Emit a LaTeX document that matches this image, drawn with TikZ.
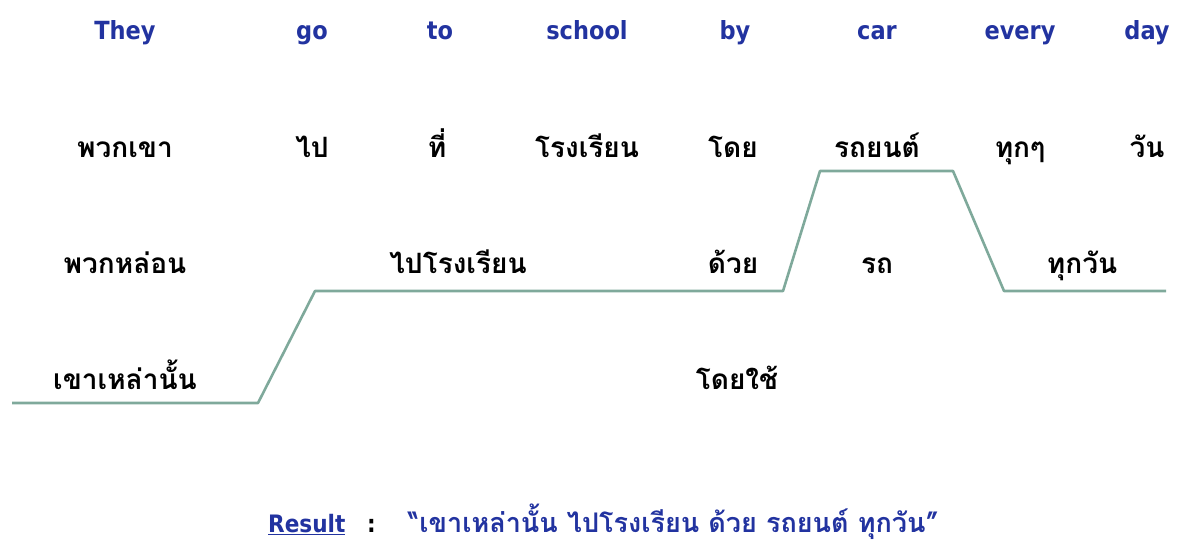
\documentclass[tikz,border=0pt]{standalone}
\usepackage{fontspec}
\newfontfamily\enfont{DejaVu Sans Condensed}
\newfontfamily\thaifont[Script=Thai]{Loma}
\definecolor{enblue}{HTML}{2233A0}
\definecolor{pathgreen}{HTML}{7FA99B}
\begin{document}
\begin{tikzpicture}[x=1pt,y=-1pt,
  en/.style={font=\enfont\bfseries\fontsize{25}{30}\selectfont, text=enblue, inner sep=0pt, anchor=base},
  th/.style={font=\thaifont\bfseries\fontsize{28}{32}\selectfont, text=black, inner sep=0pt, anchor=base},
  route/.style={draw=pathgreen, line width=2.6pt, line join=round}]
\useasboundingbox (0,0) rectangle (1182,543);
% English row
\node[en] (e1) at (125,40) {They};
\node[en] (e2) at (312,40) {go};
\node[en] (e3) at (440,40) {to};
\node[en] (e4) at (587,40) {school};
\node[en] (e5) at (735,40) {by};
\node[en] (e6) at (877,40) {car};
\node[en] (e7) at (1020,40) {every};
\node[en] (e8) at (1147,40) {day};
% Thai word-by-word
\node[th] (t1) at (125,157) {พวกเขา};
\node[th] (t2) at (312,157) {ไป};
\node[th] (t3) at (437,157) {ที่};
\node[th] (t4) at (587,157) {โรงเรียน};
\node[th] (t5) at (733,157) {โดย};
\node[th] (t6) at (877,157) {รถยนต์};
\node[th] (t7) at (1020,157) {ทุกๆ};
\node[th] (t8) at (1147,157) {วัน};
% Row 3
\node[th] (r1) at (125,273) {พวกหล่อน};
\node[th] (r2) at (458,273) {ไปโรงเรียน};
\node[th] (r3) at (733,273) {ด้วย};
\node[th] (r4) at (877,273) {รถ};
\node[th] (r5) at (1082,273) {ทุกวัน};
% Row 4
\node[th] (s1) at (125,389) {เขาเหล่านั้น};
\node[th] (s2) at (737,389) {โดยใช้};
% route
\coordinate (p0) at (12,403);
\coordinate (p1) at (258,403);
\coordinate (p2) at (315,291);
\coordinate (p3) at (783,291);
\coordinate (p4) at (820,171);
\coordinate (p5) at (953,171);
\coordinate (p6) at (1004,291);
\coordinate (p7) at (1166,291);
\draw[route] (p0) -- (p1) -- (p2) -- (p3) -- (p4) -- (p5) -- (p6) -- (p7);
% Result
\node[anchor=base west, inner sep=0pt, font=\enfont\bfseries\fontsize{24}{30}\selectfont, text=enblue] (res) at (268,532) {\underline{Result}};
\node[anchor=base west, inner sep=0pt, font=\enfont\bfseries\fontsize{24}{30}\selectfont] (colon) at (367,532) {:};
\node[anchor=base west, inner sep=0pt, font=\thaifont\bfseries\fontsize{27}{32}\selectfont, text=enblue] (rt) at (408,532) {“เขาเหล่านั้น ไปโรงเรียน ด้วย รถยนต์ ทุกวัน”};
\end{tikzpicture}
\end{document}
